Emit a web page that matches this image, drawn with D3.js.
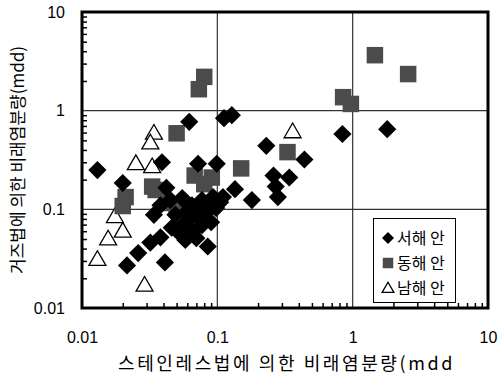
<!DOCTYPE html>
<html>
<head>
<meta charset="utf-8">
<script src="https://cdn.jsdelivr.net/npm/d3@7"></script>
<style>
  html, body { margin: 0; padding: 0; background: #fff; }
  svg { display: block; }
</style>
</head>
<body>
<svg id="chart" width="499" height="376"></svg>
<script>
// 서해안 (west coast) : [stainless method, gauze method] in mdd
const westCoast = [
  [0.013, 0.25], [0.020, 0.185], [0.062, 0.77], [0.112, 0.84], [0.128, 0.90],
  [0.039, 0.30], [0.072, 0.29], [0.099, 0.29], [0.042, 0.165], [0.23, 0.44],
  [0.44, 0.32], [0.84, 0.58], [1.8, 0.65], [0.26, 0.22], [0.34, 0.21],
  [0.27, 0.17], [0.28, 0.133], [0.18, 0.124], [0.135, 0.16], [0.11, 0.133],
  [0.085, 0.042], [0.0215, 0.027], [0.026, 0.036], [0.032, 0.046], [0.038, 0.052],
  [0.041, 0.029], [0.046, 0.065], [0.034, 0.088], [0.038, 0.11], [0.045, 0.124],
  [0.055, 0.13], [0.065, 0.11], [0.077, 0.124], [0.093, 0.133], [0.049, 0.088],
  [0.059, 0.094], [0.071, 0.086], [0.084, 0.094], [0.098, 0.103], [0.055, 0.068],
  [0.065, 0.059], [0.077, 0.069], [0.09, 0.074], [0.058, 0.049], [0.07, 0.051],
  [0.062, 0.078], [0.052, 0.058], [0.075, 0.10], [0.088, 0.112], [0.06, 0.115],
  [0.105, 0.118], [0.08, 0.085]
];

// 동해안 (east coast)
const eastCoast = [
  [0.08, 2.2], [0.073, 1.65], [0.050, 0.59], [1.46, 3.65], [2.57, 2.35],
  [0.85, 1.37], [0.97, 1.17], [0.33, 0.38], [0.15, 0.26], [0.068, 0.22],
  [0.091, 0.21], [0.033, 0.17], [0.021, 0.133], [0.020, 0.108], [0.05, 0.103],
  [0.042, 0.116], [0.035, 0.157], [0.08, 0.18]
];

// 남해안 (south coast)
const southCoast = [
  [0.034, 0.59], [0.032, 0.47], [0.025, 0.29], [0.033, 0.27], [0.36, 0.61],
  [0.0175, 0.084], [0.020, 0.060], [0.0156, 0.050], [0.013, 0.031], [0.029, 0.017]
];

const majorTicks = [0.01, 0.1, 1, 10];
const tickLabels = ["0.01", "0.1", "1", "10"];
const legendLabels = ["서해 안", "동해 안", "남해 안"];
const xTitle = "스테인레스법에 의한 비래염분량(mdd";
const yTitle = "거즈법에 의한 비래염분량(mdd)";

const svg = d3.select("#chart");
const L = 82, R = 488, T = 12, B = 308;

const x = d3.scaleLog().domain([0.01, 10]).range([L, R]);
const y = d3.scaleLog().domain([0.01, 10]).range([B, T]);

// minor ticks 2..9 in each decade
const minor = [];
for (let e = -2; e < 1; e++) for (let m = 2; m <= 9; m++) minor.push(m * Math.pow(10, e));

// decade grid lines
const grid = svg.append("g");
grid.selectAll("line.gx").data([0.1, 1]).join("line")
  .attr("x1", d => x(d)).attr("x2", d => x(d))
  .attr("y1", T).attr("y2", B)
  .attr("stroke", "#333").attr("stroke-width", 1.2);
grid.selectAll("line.gy").data([0.1, 1]).join("line")
  .attr("x1", L).attr("x2", R)
  .attr("y1", d => y(d)).attr("y2", d => y(d))
  .attr("stroke", "#333").attr("stroke-width", 1.2);

// inward minor ticks on bottom and left axes
const xMinor = svg.append("g").attr("transform", `translate(0,${B})`)
  .call(d3.axisBottom(x).tickValues(minor).tickSize(-5).tickFormat(""));
const yMinor = svg.append("g").attr("transform", `translate(${L},0)`)
  .call(d3.axisLeft(y).tickValues(minor).tickSize(-5).tickFormat(""));
[xMinor, yMinor].forEach(g => {
  g.select(".domain").remove();
  g.selectAll("line").attr("stroke", "#000").attr("stroke-width", 1.5);
});

// tick labels
const font = "'Liberation Sans', Arial, sans-serif";
const xLab = svg.append("g").attr("transform", `translate(0,${B})`)
  .call(d3.axisBottom(x).tickValues(majorTicks).tickSize(0).tickPadding(24)
    .tickFormat((d, i) => tickLabels[i]));
const yLab = svg.append("g").attr("transform", `translate(${L},0)`)
  .call(d3.axisLeft(y).tickValues(majorTicks).tickSize(0).tickPadding(17)
    .tickFormat((d, i) => tickLabels[i]));
[xLab, yLab].forEach(g => {
  g.select(".domain").remove();
  g.selectAll("text").attr("font-family", font).attr("font-size", 16).attr("fill", "#000");
});

// markers
const squareSym = d3.symbol().type(d3.symbolSquare);
const triSym = d3.symbol().type(d3.symbolTriangle);

svg.append("g").selectAll("path").data(southCoast).join("path")
  .attr("d", triSym.size(125)())
  .attr("transform", d => `translate(${x(d[0])},${y(d[1]) + 1})`)
  .attr("fill", "#fff").attr("stroke", "#000").attr("stroke-width", 1.3);

svg.append("g").selectAll("path").data(eastCoast).join("path")
  .attr("d", squareSym.size(272)())
  .attr("transform", d => `translate(${x(d[0])},${y(d[1])})`)
  .attr("fill", "#4b4b4b");

svg.append("g").selectAll("path").data(westCoast).join("path")
  .attr("d", squareSym.size(165)())
  .attr("transform", d => `translate(${x(d[0])},${y(d[1])}) rotate(45)`)
  .attr("fill", "#000");

// frame
svg.append("rect")
  .attr("x", L).attr("y", T).attr("width", R - L).attr("height", B - T)
  .attr("fill", "none").attr("stroke", "#000").attr("stroke-width", 3);

// legend
const lg = svg.append("g");
lg.append("rect").attr("x", 373.5).attr("y", 218.5).attr("width", 82).attr("height", 84)
  .attr("fill", "#fff").attr("stroke", "#000").attr("stroke-width", 1);
const rowY = [238, 263, 288];
lg.append("path").attr("d", squareSym.size(72)())
  .attr("transform", `translate(388,${rowY[0]}) rotate(45)`).attr("fill", "#000");
lg.append("path").attr("d", squareSym.size(110)())
  .attr("transform", `translate(388,${rowY[1]})`).attr("fill", "#4b4b4b");
lg.append("path").attr("d", triSym.size(60)())
  .attr("transform", `translate(388,${rowY[2] + 1})`)
  .attr("fill", "#fff").attr("stroke", "#000").attr("stroke-width", 1.3);
lg.selectAll("text").data(legendLabels).join("text")
  .attr("x", 397).attr("y", (d, i) => rowY[i] + 6)
  .attr("font-family", "'Noto Sans CJK KR', sans-serif").attr("font-size", 16)
  .attr("fill", "#000").text(d => d);

// axis titles
svg.append("text")
  .attr("x", 118).attr("y", 370)
  .attr("letter-spacing", 2.6)
  .attr("font-family", "'Noto Sans CJK KR', sans-serif").attr("font-size", 18)
  .attr("fill", "#000").text(xTitle);
svg.append("text")
  .attr("transform", `translate(24,${(T + B) / 2}) rotate(-90)`)
  .attr("text-anchor", "middle")
  .attr("font-family", "'Noto Sans CJK KR', sans-serif").attr("font-size", 17)
  .attr("fill", "#000").text(yTitle);
</script>
</body>
</html>
